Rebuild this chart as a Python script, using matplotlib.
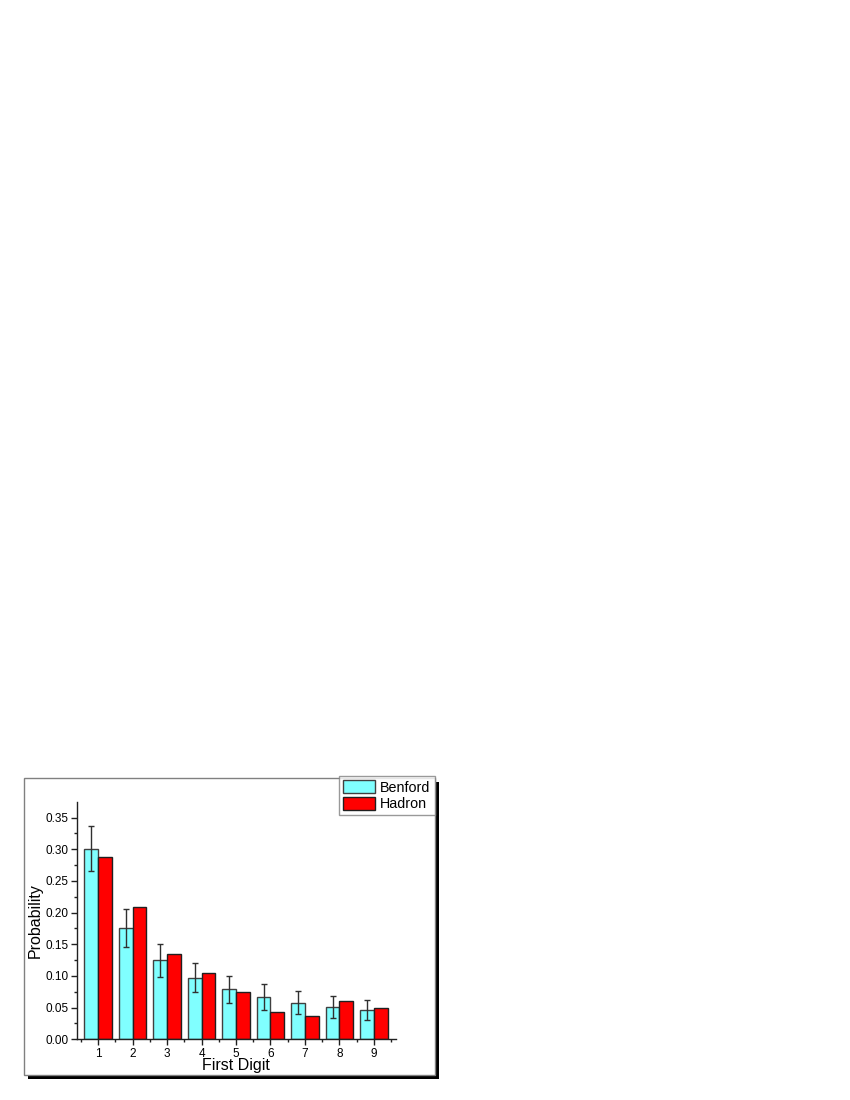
import numpy as np
import matplotlib
matplotlib.use("Agg")
import matplotlib.pyplot as plt
from matplotlib.patches import Rectangle
from matplotlib.ticker import MultipleLocator, FormatStrFormatter

plt.rcParams['font.family'] = ['Liberation Sans', 'DejaVu Sans']

# Data
digits = [1, 2, 3, 4, 5, 6, 7, 8, 9]
benford = [0.301, 0.176, 0.125, 0.097, 0.079, 0.067, 0.058, 0.051, 0.046]
benford_err = [0.035, 0.030, 0.026, 0.023, 0.021, 0.020, 0.018, 0.017, 0.016]
hadron = [0.288, 0.209, 0.135, 0.104, 0.074, 0.043, 0.037, 0.061, 0.049]

W, H = 850, 1100
fig = plt.figure(figsize=(8.5, 11), dpi=100)

# Frame with drop shadow
def px_rect(x0, y0, x1, y1, **kw):
    return Rectangle((x0 / W, 1 - y1 / H), (x1 - x0) / W, (y1 - y0) / H,
                     transform=fig.transFigure, **kw)

fig.patches.append(px_rect(27.5, 782, 439, 1078.5, facecolor='black',
                           edgecolor='none', zorder=0))
fig.patches.append(px_rect(23.5, 778, 435, 1074.5, facecolor='white',
                           edgecolor='#808080', linewidth=1, zorder=1))

ax = fig.add_axes([76.7 / W, 1 - 1039.3 / H, (396 - 76.7) / W, (1039.3 - 802.3) / H])
ax.set_zorder(2)
ax.patch.set_alpha(0)

x = np.array(digits)
bw = 0.4
ax.bar(x - bw / 2, benford, bw, color='#80FFFF', edgecolor='#404040',
       linewidth=1, label='Benford')
ax.bar(x + bw / 2, hadron, bw, color='#FF0000', edgecolor='#202020',
       linewidth=1, label='Hadron')
ax.errorbar(x - bw / 2, benford, yerr=benford_err, fmt='none',
            ecolor='#303030', elinewidth=1, capsize=2.5, capthick=1)

ax.set_xlim(0.38, 9.64)
ax.set_ylim(0, 0.374)
ax.yaxis.set_major_locator(MultipleLocator(0.05))
ax.yaxis.set_minor_locator(MultipleLocator(0.025))
ax.yaxis.set_major_formatter(FormatStrFormatter('%.2f'))
ax.set_xticks(digits)
ax.xaxis.set_minor_locator(MultipleLocator(1.0, offset=0.5))

for s in ['top', 'right']:
    ax.spines[s].set_visible(False)
for s in ['left', 'bottom']:
    ax.spines[s].set_color('#202020')
    ax.spines[s].set_linewidth(1)

ax.tick_params(which='major', direction='out', length=4, width=1,
               labelsize=8.5, color='#202020', pad=2)
ax.tick_params(which='minor', direction='out', length=2, width=1,
               color='#202020')

ax.set_xlabel('First Digit', fontsize=11.5, labelpad=-1)
ax.set_ylabel('Probability', fontsize=11.5, labelpad=2)

leg = fig.legend(loc='upper right', bbox_to_anchor=(435 / W, 1 - 776 / H),
                 fontsize=10.3, frameon=True, fancybox=False,
                 handlelength=2.2, handleheight=1.0, handletextpad=0.4,
                 borderpad=0.3, labelspacing=0.15, borderaxespad=0)
leg.get_frame().set_edgecolor('#808080')
leg.get_frame().set_linewidth(1)
leg.set_zorder(5)

fig.savefig('out.png', dpi=100)
